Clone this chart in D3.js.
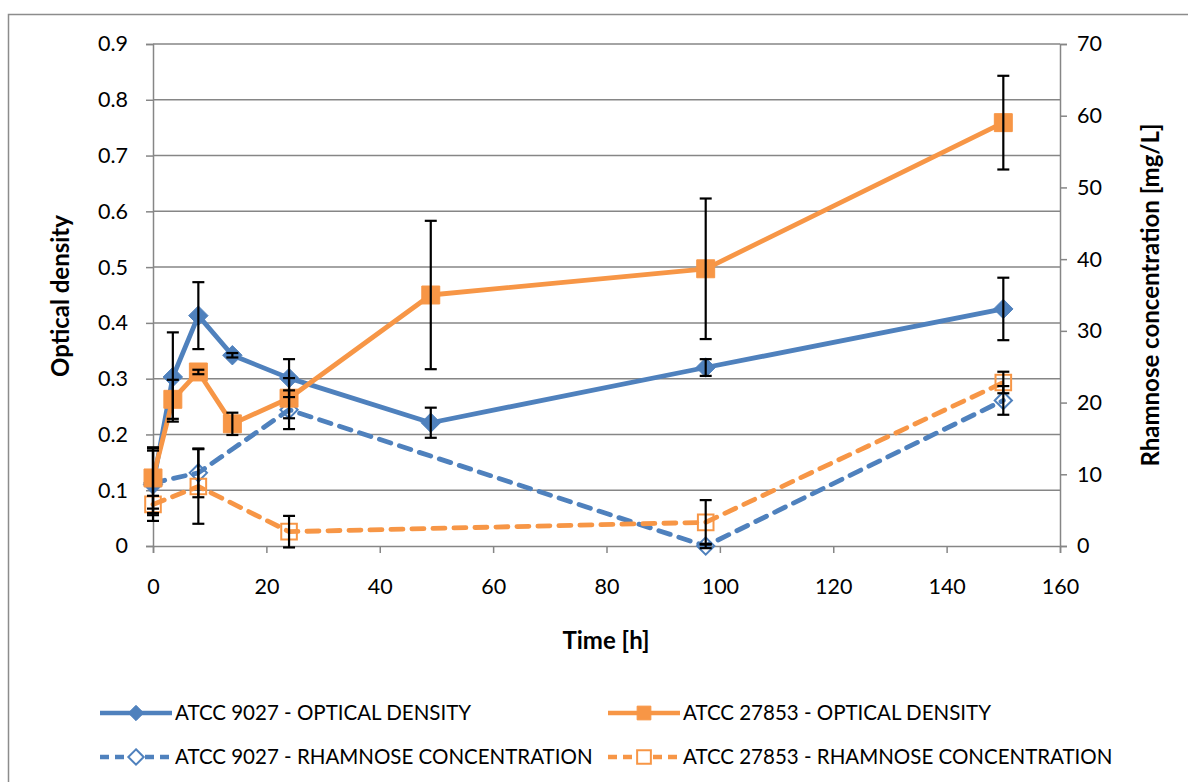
<!DOCTYPE html>
<html><head><meta charset="utf-8">
<script src="https://cdn.jsdelivr.net/npm/d3@7"></script>
<style>body{margin:0;background:#fff}svg{display:block}</style>
</head><body>
<svg id="c" width="1188" height="782"></svg>
<script>
// ---- data ----
const timeOD = [0, 3.5, 8, 14, 24, 49, 97.5, 150];
const od9027 = [0.11, 0.303, 0.413, 0.342, 0.301, 0.221, 0.32, 0.425];
const od9027Err = [0.065, 0.08, 0.06, 0.004, 0.034, 0.027, 0.015, 0.056];
const od27853 = [0.122, 0.263, 0.312, 0.219, 0.265, 0.45, 0.497, 0.759];
const od27853Err = [0.055, 0.035, 0.004, 0.02, 0.036, 0.133, 0.126, 0.084];
const timeRh = [0, 8, 24, 97.5, 150];
const rh9027 = [8.8, 10.2, 19.0, 0.0, 20.3];
const rh9027Err = [4.5, 3.4, 2.7, 0.3, 2.0];
const rh27853 = [5.8, 8.3, 2.0, 3.3, 22.8];
const rh27853Err = [1.2, 5.2, 2.2, 3.1, 1.5];
const xTicks = [0, 20, 40, 60, 80, 100, 120, 140, 160];
const yLeftTicks = [0, 0.1, 0.2, 0.3, 0.4, 0.5, 0.6, 0.7, 0.8, 0.9];
const yRightTicks = [0, 10, 20, 30, 40, 50, 60, 70];
const seriesNames = ["ATCC 9027 - OPTICAL DENSITY", "ATCC 27853 - OPTICAL DENSITY",
  "ATCC 9027 - RHAMNOSE CONCENTRATION", "ATCC 27853 - RHAMNOSE CONCENTRATION"];

const BLUE = "#4F81BD", ORANGE = "#F79646", GRID = "#868686";
const FONT = "Lato, 'Open Sans', sans-serif";

const svg = d3.select("#c");
const L = 153, R = 1060, T = 44, B = 546;
const x = d3.scaleLinear().domain([0, 160]).range([L, R]);
const yL = d3.scaleLinear().domain([0, 0.9]).range([B, T]);
const yR = d3.scaleLinear().domain([0, 70]).range([B, T]);

// chart border
svg.append("rect").attr("x", 8.5).attr("y", 14.5).attr("width", 1200).attr("height", 800)
  .attr("fill", "none").attr("stroke", "#8c8c8c").attr("stroke-width", 1.5);

// gridlines
svg.append("g").selectAll("line").data(yLeftTicks.slice(1)).join("line")
  .attr("x1", L).attr("x2", R).attr("y1", d => yL(d)).attr("y2", d => yL(d))
  .attr("stroke", GRID).attr("stroke-width", 1.5);

// axes
function styleAxis(g) {
  g.select(".domain").attr("stroke", GRID).attr("stroke-width", 1.5);
  g.selectAll(".tick line").attr("stroke", GRID).attr("stroke-width", 1.5);
  g.selectAll(".tick text").attr("fill", "#000").attr("font-family", FONT).attr("font-size", 21.5);
}
svg.append("g").attr("transform", `translate(0,${B})`)
  .call(d3.axisBottom(x).tickValues(xTicks).tickSizeOuter(0).tickSize(7).tickPadding(26).tickFormat(d3.format("d")))
  .call(styleAxis);
svg.append("g").attr("transform", `translate(${L},0)`)
  .call(d3.axisLeft(yL).tickValues(yLeftTicks).tickSizeOuter(0).tickSize(7).tickPadding(18)
    .tickFormat(d => d === 0 ? "0" : d3.format(".1f")(d)))
  .call(styleAxis);
svg.append("g").attr("transform", `translate(${R},0)`)
  .call(d3.axisRight(yR).tickValues(yRightTicks).tickSizeOuter(0).tickSize(7).tickPadding(10).tickFormat(d3.format("d")))
  .call(styleAxis);

// axis titles
svg.append("text").attr("x", 606).attr("y", 649).attr("text-anchor", "middle")
  .attr("font-family", FONT).attr("font-weight", "bold").attr("font-size", 24).text("Time [h]");
svg.append("text").attr("transform", `translate(69,${(T + B) / 2 + 1}) rotate(-90)`).attr("text-anchor", "middle")
  .attr("font-family", FONT).attr("font-weight", "bold").attr("font-size", 24).text("Optical density");
svg.append("text").attr("transform", `translate(1159,${(T + B) / 2}) rotate(-90)`).attr("text-anchor", "middle")
  .attr("font-family", FONT).attr("font-weight", "bold").attr("font-size", 24).text("Rhamnose concentration [mg/L]");

const plot = svg.append("g");

function drawSeries(xs, ys, errs, yScale, color, dashed) {
  const pts = xs.map((t, i) => ({ x: x(t), y: yScale(ys[i]), lo: yScale(ys[i] - errs[i]), hi: yScale(ys[i] + errs[i]) }));
  plot.append("path").datum(pts)
    .attr("d", d3.line().x(d => d.x).y(d => d.y))
    .attr("fill", "none").attr("stroke", color).attr("stroke-width", 4.8)
    .attr("stroke-linejoin", "round")
    .attr("stroke-dasharray", dashed ? "12,9" : null)
    .attr("stroke-linecap", dashed ? "round" : "butt");
  return pts;
}
function drawMarkers(pts, color, marker, filled) {
  const sym = d3.symbol().type(marker === "diamond" ? d3.symbolDiamond2 : d3.symbolSquare2)
    .size(marker === "diamond" ? (filled ? 240 : 190) : (filled ? 410 : 310));
  plot.append("g").selectAll("path").data(pts).join("path")
    .attr("transform", d => `translate(${d.x},${d.y})`)
    .attr("d", sym)
    .attr("fill", filled ? color : "none")
    .attr("stroke", color).attr("stroke-width", filled ? 1 : 2);
}
function drawErr(pts) {
  const g = plot.append("g").attr("stroke", "#000").attr("stroke-width", 2.2);
  pts.forEach(d => {
    g.append("line").attr("x1", d.x).attr("x2", d.x).attr("y1", d.lo).attr("y2", d.hi);
    g.append("line").attr("x1", d.x - 6).attr("x2", d.x + 6).attr("y1", d.lo).attr("y2", d.lo);
    g.append("line").attr("x1", d.x - 6).attr("x2", d.x + 6).attr("y1", d.hi).attr("y2", d.hi);
  });
}

const p3 = drawSeries(timeRh, rh9027, rh9027Err, yR, BLUE, true);
const p4 = drawSeries(timeRh, rh27853, rh27853Err, yR, ORANGE, true);
const p1 = drawSeries(timeOD, od9027, od9027Err, yL, BLUE, false);
const p2 = drawSeries(timeOD, od27853, od27853Err, yL, ORANGE, false);
drawMarkers(p3, BLUE, "diamond", false);
drawMarkers(p4, ORANGE, "square", false);
drawMarkers(p1, BLUE, "diamond", true);
drawMarkers(p2, ORANGE, "square", true);
[p3, p4, p1, p2].forEach(drawErr);

// legend
const legend = [
  { name: seriesNames[0], color: BLUE, dashed: false, marker: "diamond", filled: true, lx: 100, ly: 713 },
  { name: seriesNames[1], color: ORANGE, dashed: false, marker: "square", filled: true, lx: 608, ly: 713 },
  { name: seriesNames[2], color: BLUE, dashed: true, marker: "diamond", filled: false, lx: 100, ly: 757 },
  { name: seriesNames[3], color: ORANGE, dashed: true, marker: "square", filled: false, lx: 608, ly: 757 }
];
const lg = svg.append("g");
legend.forEach(d => {
  lg.append("line").attr("x1", d.lx).attr("x2", d.lx + 72).attr("y1", d.ly).attr("y2", d.ly)
    .attr("stroke", d.color).attr("stroke-width", 4.5)
    .attr("stroke-dasharray", d.dashed ? "9,6" : null);
  const sym = d3.symbol().type(d.marker === "diamond" ? d3.symbolDiamond2 : d3.symbolSquare2)
    .size(d.marker === "diamond" ? 150 : 240);
  lg.append("path").attr("transform", `translate(${d.lx + 36},${d.ly})`).attr("d", sym)
    .attr("fill", d.filled ? d.color : "#fff").attr("stroke", d.color).attr("stroke-width", d.filled ? 1 : 2);
  lg.append("text").attr("x", d.lx + 75).attr("y", d.ly + 7)
    .attr("font-family", FONT).attr("font-size", 20.5).attr("fill", "#000").text(d.name);
});
</script>
</body></html>
